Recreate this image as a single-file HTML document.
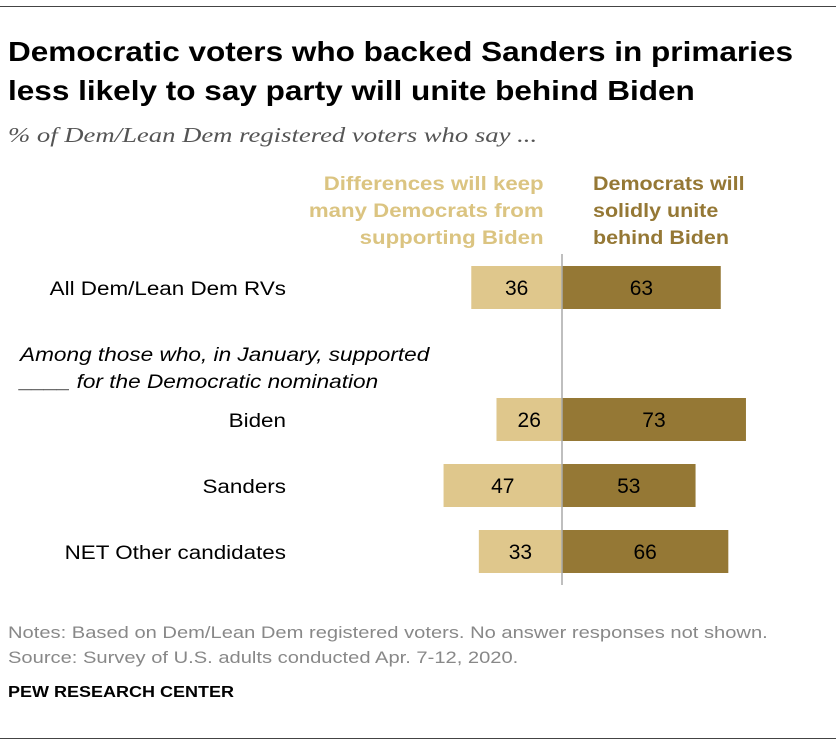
<!DOCTYPE html>
<html><head><meta charset="utf-8"><style>
body{margin:0;background:#fff;font-family:"Liberation Sans",sans-serif;}
#wrap{position:relative;width:836px;height:746px;overflow:hidden;}
.t{position:absolute;white-space:nowrap;}
</style></head><body>
<div id="wrap">
<div class="t" style="left:0;top:6px;width:836px;height:1px;background:#444"></div>
<div class="t" style="left:8px;top:32px;font-size:28px;font-weight:bold;line-height:39px;color:#000;transform:scaleX(1.126);transform-origin:left top">Democratic voters who backed Sanders in primaries<br>less likely to say party will unite behind Biden</div>
<div class="t" style="left:8px;top:123px;font-size:21px;font-style:italic;color:#555;font-family:'Liberation Serif',serif;transform:scaleX(1.27);transform-origin:left top">% of Dem/Lean Dem registered voters who say ...</div>
<div class="t" style="right:292px;top:171px;font-size:19px;font-weight:bold;line-height:27px;color:#dbc481;text-align:right;transform:scaleX(1.17);transform-origin:right top">Differences will keep<br>many Democrats from<br>supporting Biden</div>
<div class="t" style="left:593px;top:171px;font-size:19px;font-weight:bold;line-height:27px;color:#957835;transform:scaleX(1.13);transform-origin:left top">Democrats will<br>solidly unite<br>behind Biden</div>
<div class="t" style="left:20px;top:342px;font-size:19px;font-style:italic;line-height:27px;color:#000;transform:scaleX(1.19);transform-origin:left top">Among those who, in January, supported<br>____ for the Democratic nomination</div>
<svg class="t" style="left:0;top:0" width="836" height="746" id="svg"></svg>
<div class="t" style="left:8px;top:621px;font-size:16.5px;line-height:25px;color:#888;transform:scaleX(1.22);transform-origin:left top">Notes: Based on Dem/Lean Dem registered voters. No answer responses not shown.<br>Source: Survey of U.S. adults conducted Apr. 7-12, 2020.</div>
<div class="t" style="left:8px;top:684px;font-size:16px;font-weight:bold;color:#000;transform:scaleX(1.125);transform-origin:left top">PEW RESEARCH CENTER</div>
<div class="t" style="left:0;top:738px;width:836px;height:1px;background:#444"></div>
</div>
<script>
const categories=["All Dem/Lean Dem RVs","Biden","Sanders","NET Other candidates"];
const differences=[36,26,47,33];
const unite=[63,73,53,66];
const rowTop=[266,398,464,530];
const svg=document.getElementById('svg');
const NS='http://www.w3.org/2000/svg';
const cx=562,scale=2.52,bh=43;
function x(v){return v*scale;}
function mk(t,a){const e=document.createElementNS(NS,t);for(const k in a)e.setAttribute(k,a[k]);svg.appendChild(e);return e;}
function stretch(e,f){const w=e.getComputedTextLength();e.setAttribute('textLength',w*f);e.setAttribute('lengthAdjust','spacingAndGlyphs');}
categories.forEach((c,i)=>{
  const y=rowTop[i];
  const r1=mk('rect',{x:cx-x(differences[i]),y:y,width:x(differences[i]),height:bh,fill:'#dfc78c'});
  
  
  const r2=mk('rect',{x:cx,y:y,width:x(unite[i]),height:bh,fill:'#957835'});
  
  
  const t1=mk('text',{x:cx-x(differences[i])/2,y:y+29,'text-anchor':'middle','font-size':21,fill:'#000','font-family':'Liberation Sans, sans-serif'});
  t1.textContent=differences[i];
  
  
  const t2=mk('text',{x:cx+x(unite[i])/2,y:y+29,'text-anchor':'middle','font-size':21,fill:'#000','font-family':'Liberation Sans, sans-serif'});
  t2.textContent=unite[i];
  
  
  const l=mk('text',{x:286,y:y+29,'text-anchor':'end','font-size':19,fill:'#000','font-family':'Liberation Sans, sans-serif'});
  l.textContent=c;
  
  
  stretch(l,1.18);
});
const ax=mk('line',{x1:cx,x2:cx,y1:254,y2:585,stroke:'#aaa','stroke-width':1.5});


</script>
</body></html>
